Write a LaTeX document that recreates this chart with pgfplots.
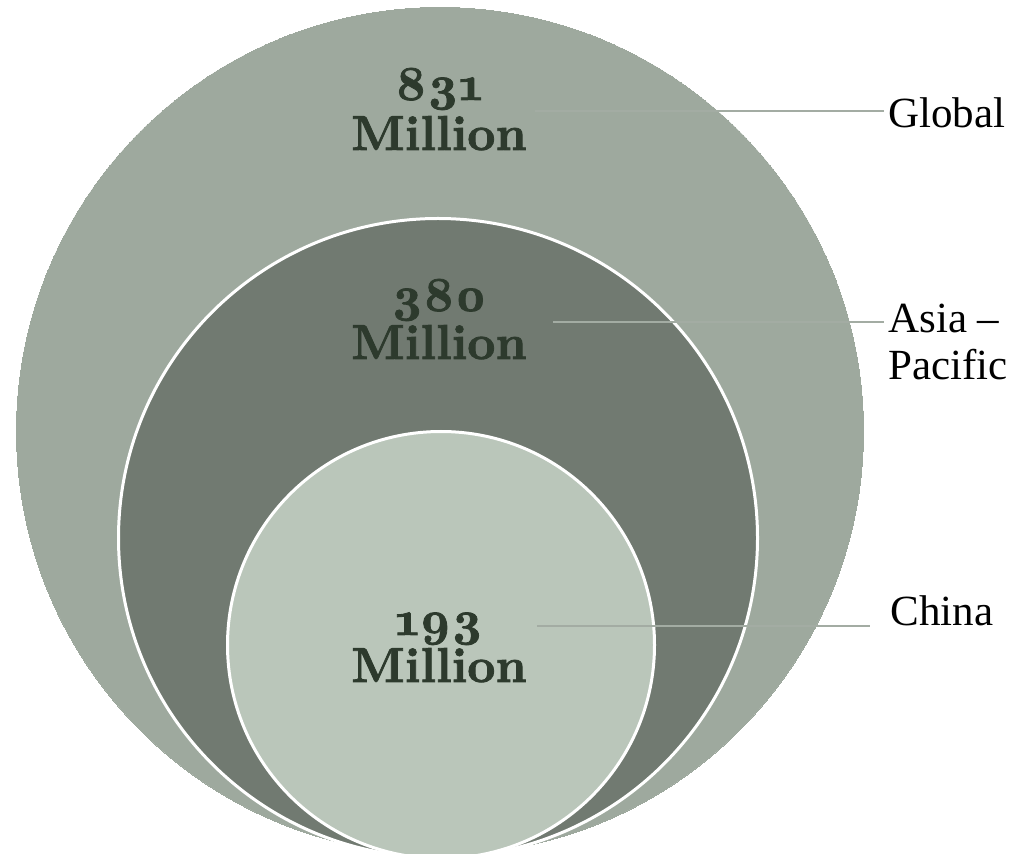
\documentclass[border=0pt]{standalone}
\usepackage{fontspec}
\usepackage{pgfplots}
\pgfplotsset{compat=1.18}
\setmainfont{Liberation Serif}
\newfontfamily\numfont[Numbers=OldStyle, FakeBold=1.6]{lmroman10-bold.otf}
\definecolor{outerc}{HTML}{9EA99E}
\definecolor{midc}{HTML}{717A71}
\definecolor{innerc}{HTML}{BAC6BA}
\definecolor{txtc}{HTML}{2D3A2D}
\definecolor{linec}{HTML}{A3ACA3}
\begin{document}
\begin{tikzpicture}
\begin{axis}[
  scale only axis, width=508pt, height=427pt,
  xmin=0, xmax=1016, ymin=0, ymax=854, y dir=reverse,
  hide axis, clip=true, clip marker paths=true,
]
% circles (centre in px, radius via mark size)
\addplot[only marks, mark=*, mark size=211.75pt, mark options={fill=outerc, draw=outerc, line width=0pt}] coordinates {(440,431)};
\addplot[only marks, mark=*, mark size=159.75pt, mark options={fill=midc, draw=white, line width=1.5pt}] coordinates {(438,538)};
\addplot[only marks, mark=*, mark size=106.75pt, mark options={fill=innerc, draw=white, line width=1.5pt}] coordinates {(441,645)};
% leader lines
\addplot[linec, line width=0.75pt] coordinates {(535,111) (884,111)};
\addplot[linec, line width=0.75pt] coordinates {(553,322) (884,322)};
\addplot[linec, line width=0.75pt] coordinates {(537,626) (870,626)};
% values
\tikzset{val/.style={anchor=base, text=txtc, font=\numfont\fontsize{24.5}{25}\selectfont}}
\node[val] at (axis cs:439,100) {831};
\node[val] at (axis cs:439,150) {Million};
\node[val] at (axis cs:439,311) {380};
\node[val] at (axis cs:439,359) {Million};
\node[val] at (axis cs:439,635) {193};
\node[val] at (axis cs:439,682) {Million};
% labels
\node[anchor=base west, inner sep=0pt, font=\fontsize{21.5}{23.5}\selectfont] at (axis cs:888,128) {Global};
\node[anchor=base west, inner sep=0pt, align=left, font=\fontsize{21.5}{23.5}\selectfont] at (axis cs:888,380) {Asia –\\Pacific};
\node[anchor=base west, inner sep=0pt, font=\fontsize{21.5}{23.5}\selectfont] at (axis cs:890,625) {China};
\end{axis}
\pgfresetboundingbox
\path (current axis.south west) rectangle (current axis.north east);
\end{tikzpicture}
\end{document}
